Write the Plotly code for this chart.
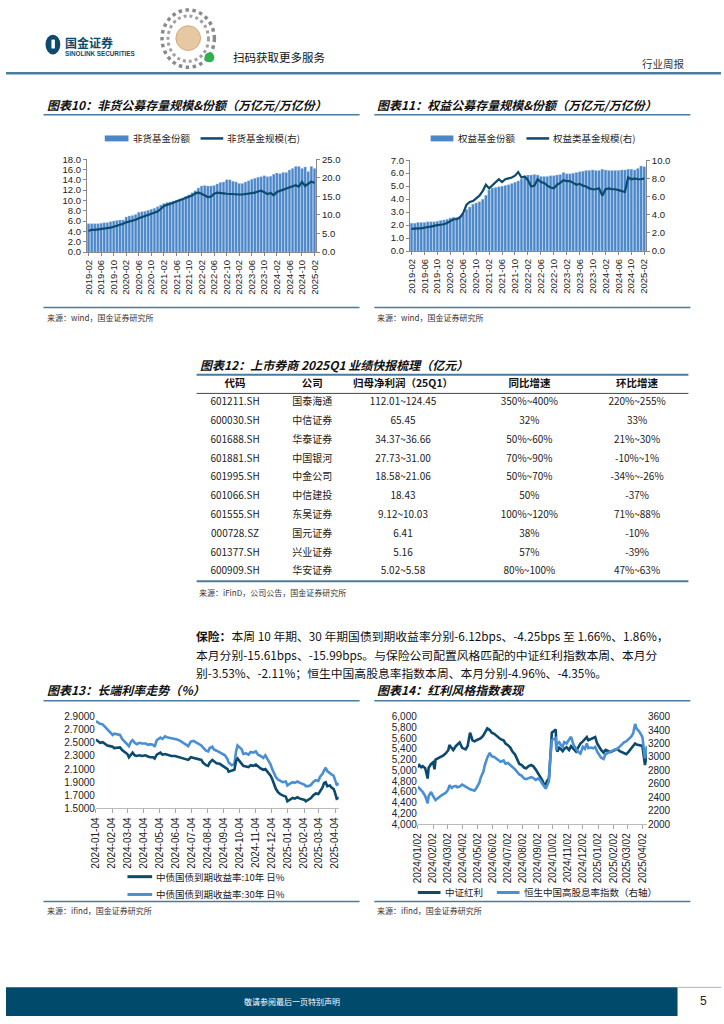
import plotly.graph_objects as go
import pandas as pd

W, H = 724, 1024
def X(px): return px / W
def Y(py): return 1 - py / H

# ---------------- DATA ----------------
MONTHS = [p.strftime("%Y-%m") for p in pd.period_range("2019-02", "2025-02", freq="M")]

SHARE_NONMM = [5.5, 5.5, 5.5, 5.5, 5.6, 5.7, 5.7, 5.9, 6.0, 6.1, 6.2,
               6.2, 6.8, 7.0, 7.1, 7.3, 7.7, 7.8, 7.9, 8.1, 8.3, 8.5, 8.8,
               9.1, 9.4, 9.6, 9.7, 9.9, 10.1, 10.3, 10.5, 10.8, 11.1, 11.5, 11.9,
               12.4, 12.8, 12.9, 12.8, 12.8, 12.9, 13.2, 13.5, 13.6, 14.0, 14.0, 13.7,
               13.6, 13.3, 13.3, 13.6, 13.8, 14.1, 14.3, 14.5, 14.6, 14.8, 14.6, 14.7,
               15.1, 15.3, 15.2, 15.4, 15.4, 15.9, 16.2, 16.6, 16.6, 16.2, 16.5, 15.6,
               16.6, 16.2]
SCALE_NONMM = [5.7, 6.0, 6.0, 6.1, 6.1, 6.2, 6.4, 6.6, 6.8, 7.0, 7.3,
               7.6, 8.0, 8.2, 8.4, 8.7, 9.1, 9.4, 9.6, 9.8, 10.3, 10.6, 10.9,
               11.6, 12.4, 12.7, 12.9, 13.3, 13.6, 13.9, 14.2, 14.4, 14.7, 15.2, 15.8,
               16.0, 15.7, 15.3, 14.8, 14.9, 15.7, 16.0, 16.0, 15.8, 15.7, 15.6, 15.5,
               15.6, 15.5, 15.5, 15.6, 15.7, 15.8, 16.0, 16.3, 16.5, 16.1, 15.6, 15.9,
               15.3, 16.2, 16.5, 16.8, 17.2, 17.5, 17.8, 18.0, 17.6, 18.9, 17.8, 18.3,
               19.0, 18.6]

SHARE_EQ = [2.15, 2.15, 2.2, 2.2, 2.2, 2.25, 2.25, 2.25, 2.3, 2.35, 2.4,
            2.45, 2.55, 2.6, 2.6, 2.7, 2.85, 3.2, 3.4, 3.6, 3.7, 3.8, 4.0,
            4.3, 4.7, 4.85, 4.9, 4.95, 5.0, 5.05, 5.1, 5.2, 5.3, 5.4, 5.55,
            5.75, 5.85, 5.85, 5.9, 5.85, 5.75, 5.75, 5.75, 5.8, 5.8, 5.85, 5.9,
            6.05, 5.95, 5.95, 6.0, 6.05, 6.1, 6.15, 6.2, 6.2, 6.25, 6.2, 6.2,
            6.3, 6.25, 6.2, 6.2, 6.2, 6.2, 6.25, 6.25, 6.3, 6.3, 6.25, 6.35,
            6.55, 6.5]
SCALE_EQ = [2.45, 2.5, 2.5, 2.5, 2.6, 2.65, 2.7, 2.8, 2.85, 2.9, 2.95,
            3.1, 3.3, 3.5, 3.5, 3.7, 4.2, 5.1, 5.4, 5.5, 5.8, 6.1, 6.6,
            7.3, 6.9, 7.2, 7.6, 7.9, 7.6, 7.9, 8.0, 8.1, 8.3, 8.7, 8.1,
            8.2, 7.8, 7.1, 7.2, 7.9, 7.6, 7.5, 7.2, 7.0, 6.9, 7.3, 7.5,
            7.8, 7.7, 7.7, 7.5, 7.3, 7.4, 7.2, 7.1, 6.9, 6.8, 6.8, 6.9,
            6.1, 6.8, 6.9, 6.8, 6.8, 6.7, 6.6, 6.5, 8.1, 7.9, 8.0, 7.9,
            7.9, 8.0]

DATES13 = ["2024-01-04", "2024-01-08", "2024-01-12", "2024-01-17", "2024-01-22", "2024-01-26", "2024-01-31",
           "2024-02-05", "2024-02-08", "2024-02-19", "2024-02-23", "2024-02-28",
           "2024-03-04", "2024-03-07", "2024-03-11", "2024-03-14", "2024-03-18", "2024-03-22", "2024-03-27",
           "2024-04-01", "2024-04-08", "2024-04-12", "2024-04-17", "2024-04-22", "2024-04-25", "2024-04-29",
           "2024-05-06", "2024-05-10", "2024-05-15", "2024-05-20", "2024-05-27",
           "2024-06-03", "2024-06-07", "2024-06-13", "2024-06-19", "2024-06-24", "2024-06-28",
           "2024-07-03", "2024-07-08", "2024-07-12", "2024-07-18", "2024-07-23", "2024-07-26",
           "2024-08-01", "2024-08-05", "2024-08-08", "2024-08-13", "2024-08-16", "2024-08-21", "2024-08-27",
           "2024-09-02", "2024-09-06", "2024-09-11", "2024-09-13", "2024-09-19", "2024-09-24", "2024-09-27", "2024-09-30",
           "2024-10-08", "2024-10-11", "2024-10-16", "2024-10-21", "2024-10-25", "2024-10-30",
           "2024-11-04", "2024-11-08", "2024-11-13", "2024-11-18", "2024-11-22", "2024-11-27",
           "2024-12-02", "2024-12-05", "2024-12-09", "2024-12-12", "2024-12-16", "2024-12-20", "2024-12-25", "2024-12-31",
           "2025-01-03", "2025-01-08", "2025-01-13", "2025-01-17", "2025-01-22", "2025-01-27",
           "2025-02-05", "2025-02-07", "2025-02-12", "2025-02-17", "2025-02-21", "2025-02-26",
           "2025-03-03", "2025-03-06", "2025-03-11", "2025-03-14", "2025-03-17", "2025-03-20", "2025-03-25", "2025-03-28",
           "2025-04-01", "2025-04-03", "2025-04-07", "2025-04-10", "2025-04-11"]
Y10 = [2.55, 2.52, 2.50, 2.51, 2.48, 2.46, 2.45,
       2.44, 2.42, 2.43, 2.39, 2.36,
       2.33, 2.28, 2.32, 2.35, 2.31, 2.30, 2.31,
       2.30, 2.31, 2.29, 2.28, 2.28, 2.26, 2.32,
       2.35, 2.32, 2.33, 2.32, 2.30,
       2.30, 2.29, 2.28, 2.27, 2.25, 2.24,
       2.28, 2.27, 2.26, 2.25, 2.24, 2.20,
       2.16, 2.15, 2.20, 2.24, 2.22, 2.19, 2.18,
       2.15, 2.13, 2.10, 2.06, 2.07, 2.09, 2.22, 2.26,
       2.18, 2.15, 2.14, 2.13, 2.16, 2.15,
       2.17, 2.14, 2.11, 2.09, 2.10, 2.05,
       2.00, 1.95, 1.85, 1.80, 1.75, 1.72, 1.70, 1.68,
       1.61, 1.64, 1.66, 1.65, 1.67, 1.65,
       1.63, 1.61, 1.63, 1.66, 1.70, 1.73,
       1.72, 1.76, 1.82, 1.89, 1.90, 1.84, 1.85, 1.82,
       1.80, 1.76, 1.65, 1.66, 1.66]
Y30 = [2.83, 2.81, 2.79, 2.78, 2.74, 2.70, 2.66,
       2.62, 2.64, 2.62, 2.56, 2.52,
       2.48, 2.45, 2.52, 2.54, 2.50, 2.48, 2.50,
       2.49, 2.49, 2.47, 2.48, 2.47, 2.44, 2.54,
       2.58, 2.56, 2.60, 2.58, 2.57,
       2.56, 2.55, 2.53, 2.50, 2.47, 2.45,
       2.52, 2.53, 2.51, 2.48, 2.46, 2.43,
       2.38, 2.37, 2.42, 2.44, 2.40, 2.38, 2.35,
       2.33, 2.31, 2.25, 2.20, 2.16, 2.18, 2.36, 2.46,
       2.40, 2.33, 2.34, 2.32, 2.36, 2.35,
       2.37, 2.32, 2.30, 2.27, 2.31, 2.24,
       2.17, 2.10, 2.02, 1.98, 1.94, 1.92, 1.90, 1.91,
       1.85, 1.88, 1.90, 1.89, 1.91, 1.89,
       1.86, 1.84, 1.84, 1.86, 1.90, 1.93,
       1.92, 1.98, 2.03, 2.08, 2.12, 2.07, 2.03, 2.02,
       2.00, 1.95, 1.86, 1.87, 1.89]
TICKS13 = ["2024-01-04", "2024-02-04", "2024-03-04", "2024-04-04", "2024-05-04", "2024-06-04",
           "2024-07-04", "2024-08-04", "2024-09-04", "2024-10-04", "2024-11-04", "2024-12-04",
           "2025-01-04", "2025-02-04", "2025-03-04", "2025-04-04"]

DATES14 = ["2024-01-02", "2024-01-05", "2024-01-09", "2024-01-12", "2024-01-17", "2024-01-22", "2024-01-24", "2024-01-29",
           "2024-02-02", "2024-02-05", "2024-02-07", "2024-02-19", "2024-02-23", "2024-02-28",
           "2024-03-04", "2024-03-06", "2024-03-11", "2024-03-14", "2024-03-19", "2024-03-22", "2024-03-27",
           "2024-04-01", "2024-04-08", "2024-04-12", "2024-04-17", "2024-04-22", "2024-04-26", "2024-04-30",
           "2024-05-06", "2024-05-09", "2024-05-14", "2024-05-17", "2024-05-22", "2024-05-27", "2024-05-31",
           "2024-06-05", "2024-06-12", "2024-06-18", "2024-06-24", "2024-06-28",
           "2024-07-03", "2024-07-08", "2024-07-12", "2024-07-17", "2024-07-22", "2024-07-26", "2024-07-31",
           "2024-08-05", "2024-08-09", "2024-08-14", "2024-08-19", "2024-08-23", "2024-08-28",
           "2024-09-02", "2024-09-06", "2024-09-11", "2024-09-13", "2024-09-18", "2024-09-20", "2024-09-24", "2024-09-26", "2024-09-30",
           "2024-10-08", "2024-10-09", "2024-10-11", "2024-10-15", "2024-10-18", "2024-10-22", "2024-10-25", "2024-10-30",
           "2024-11-04", "2024-11-08", "2024-11-13", "2024-11-18", "2024-11-22", "2024-11-27",
           "2024-12-02", "2024-12-06", "2024-12-10", "2024-12-13", "2024-12-18", "2024-12-23", "2024-12-27", "2024-12-31",
           "2025-01-03", "2025-01-08", "2025-01-13", "2025-01-17", "2025-01-22", "2025-01-27",
           "2025-02-05", "2025-02-10", "2025-02-14", "2025-02-19", "2025-02-24", "2025-02-28",
           "2025-03-05", "2025-03-10", "2025-03-14", "2025-03-18", "2025-03-21", "2025-03-26", "2025-03-31",
           "2025-04-02", "2025-04-07", "2025-04-09", "2025-04-11"]
CSI_DIV = [5060, 5100, 5060, 5080, 5040, 4850, 5050, 5120,
           5150, 5020, 5200, 5250, 5280, 5320,
           5380, 5470, 5420, 5380, 5450, 5480, 5520,
           5420, 5390, 5450, 5700, 5560, 5540, 5560,
           5580, 5600, 5650, 5700, 5780, 5750, 5700,
           5680, 5620, 5580, 5560, 5500,
           5470, 5420, 5350, 5300, 5200, 5120, 5100,
           5050, 5040, 5080, 5100, 5080, 5020,
           4950, 4900, 4810, 4760, 4740, 4800, 4850, 5100, 5700,
           5760, 5450, 5350, 5420, 5400, 5360, 5400, 5430,
           5380, 5450, 5400, 5350, 5420, 5500,
           5540, 5580, 5620, 5560, 5580, 5600, 5620, 5500,
           5450, 5380, 5330, 5380, 5360, 5340,
           5380, 5400, 5360, 5340, 5330, 5300,
           5350, 5400, 5460, 5500, 5480, 5470, 5460,
           5440, 5100, 5200, 5300]
HSCEI_DIV = [2560, 2540, 2500, 2480, 2420, 2310, 2420, 2480,
             2420, 2380, 2360, 2430, 2450, 2470,
             2520, 2580, 2540, 2560, 2570, 2550, 2560,
             2590, 2560, 2540, 2520, 2510, 2500, 2540,
             2620, 2700, 2780, 2880, 2990, 3060, 3010,
             3000, 2960, 2930, 2950, 2900,
             2910, 2870, 2850, 2820, 2780, 2740, 2720,
             2680, 2670, 2690, 2700, 2690, 2660,
             2680, 2660, 2600, 2580, 2530, 2570, 2640, 2900, 3250,
             3280, 3100, 3200, 3220, 3180, 3150, 3220, 3200,
             3260, 3300, 3180, 3130, 3080, 3050,
             3150, 3120, 3200, 3130, 3140, 3130, 3150, 3080,
             3040, 2990, 2970, 3040, 3060, 3080,
             3110, 3120, 3150, 3190, 3220, 3230,
             3270, 3300, 3350, 3490, 3420, 3380, 3320,
             3290, 2980, 3060, 3160]
TICKS14 = ["2024/01/02", "2024/02/02", "2024/03/02", "2024/04/02", "2024/05/02", "2024/06/02",
           "2024/07/02", "2024/08/02", "2024/09/02", "2024/10/02", "2024/11/02", "2024/12/02",
           "2025/01/02", "2025/02/02", "2025/03/02", "2025/04/02"]

TBL_HEAD = ["代码", "公司", "归母净利润（25Q1）", "同比增速", "环比增速"]
TBL_CODE = ["601211.SH", "600030.SH", "601688.SH", "601881.SH", "601995.SH",
            "601066.SH", "601555.SH", "000728.SZ", "601377.SH", "600909.SH"]
TBL_NAME = ["国泰海通", "中信证券", "华泰证券", "中国银河", "中金公司",
            "中信建投", "东吴证券", "国元证券", "兴业证券", "华安证券"]
TBL_PROFIT = ["112.01~124.45", "65.45", "34.37~36.66", "27.73~31.00", "18.58~21.06",
              "18.43", "9.12~10.03", "6.41", "5.16", "5.02~5.58"]
TBL_YOY = ["350%~400%", "32%", "50%~60%", "70%~90%", "50%~70%",
           "50%", "100%~120%", "38%", "57%", "80%~100%"]
TBL_QOQ = ["220%~255%", "33%", "21%~30%", "-10%~1%", "-34%~-26%",
           "-37%", "71%~88%", "-10%", "-39%", "47%~63%"]

# ---------------- STYLE ----------------
BAR = "#4a86c8"
DARK = "#0c4a6e"
LIGHT = "#4a8ed4"
RULE = "#4a7b9c"
SANS = "Liberation Sans, Arial, sans-serif"
CJK = "Noto Sans CJK SC, sans-serif"
TICKF = dict(family=SANS, size=9.5, color="#222")

fig = go.Figure()

# Chart 10
fig.add_trace(go.Bar(x=MONTHS, y=SHARE_NONMM, xaxis="x", yaxis="y", marker=dict(color=BAR, line=dict(color="#a7c6e8", width=0.4)), showlegend=False))
fig.add_trace(go.Scatter(x=MONTHS, y=SCALE_NONMM, xaxis="x", yaxis="y2", mode="lines", line=dict(color=DARK, width=2.2), showlegend=False))
# Chart 11
fig.add_trace(go.Bar(x=MONTHS, y=SHARE_EQ, xaxis="x2", yaxis="y3", marker=dict(color=BAR, line=dict(color="#a7c6e8", width=0.4)), showlegend=False))
fig.add_trace(go.Scatter(x=MONTHS, y=SCALE_EQ, xaxis="x2", yaxis="y4", mode="lines", line=dict(color=DARK, width=2.2), showlegend=False))
# Chart 13
fig.add_trace(go.Scatter(x=DATES13, y=Y30, xaxis="x3", yaxis="y5", mode="lines", line=dict(color=LIGHT, width=2.6), showlegend=False))
fig.add_trace(go.Scatter(x=DATES13, y=Y10, xaxis="x3", yaxis="y5", mode="lines", line=dict(color=DARK, width=2.6), showlegend=False))
# Chart 14
fig.add_trace(go.Scatter(x=DATES14, y=CSI_DIV, xaxis="x4", yaxis="y6", mode="lines", line=dict(color=DARK, width=2.6), showlegend=False))
fig.add_trace(go.Scatter(x=DATES14, y=HSCEI_DIV, xaxis="x4", yaxis="y7", mode="lines", line=dict(color=LIGHT, width=2.6), showlegend=False))

# Table 12: one text column per axis, rows on a shared category axis
ROWS = ["HDR"] + TBL_CODE
TBL_COLS = [TBL_CODE, TBL_NAME, TBL_PROFIT, TBL_YOY, TBL_QOQ]
COL_EDGES = [193, 271, 349, 455, 605, 673]
for i, col in enumerate(TBL_COLS):
    fig.add_trace(go.Scatter(
        x=[TBL_HEAD[i]] * len(ROWS), y=ROWS, mode="text",
        text=["<b>%s</b>" % TBL_HEAD[i]] + col, textposition="middle center",
        textfont=dict(family=CJK, size=[10.5] + [10] * len(col), color=["#111"] + ["#222"] * len(col)),
        xaxis="x%d" % (5 + i), yaxis="y8", showlegend=False, hoverinfo="skip", cliponaxis=False))

def cat_x(dom, anchor):
    return dict(domain=dom, anchor=anchor, type="category", tickmode="array",
                tickvals=MONTHS[::4], ticktext=MONTHS[::4], tickangle=-90,
                ticks="outside", ticklen=3, tickcolor="#888", showline=True, linecolor="#888",
                linewidth=1, showgrid=False, tickfont=TICKF, fixedrange=True)

def val_y(dom, anchor, rng, dt, fmt, side="left", overlay=None):
    d = dict(domain=dom, anchor=anchor, range=rng, dtick=dt, tick0=0, tickformat=fmt, side=side,
             ticks="outside", ticklen=3, tickcolor="#888", showline=True,
             linecolor="#888", linewidth=1, showgrid=False, zeroline=False, tickfont=TICKF,
             fixedrange=True)
    if overlay:
        d["overlaying"] = overlay
        d.pop("domain")
    return d

layout_axes = dict(
    xaxis=cat_x([X(82), X(314)], "y"),
    yaxis=val_y([Y(249), Y(155)], "x", [0, 18], 2, ".1f"),
    yaxis2=val_y(None, "x", [0, 25], 5, ".1f", side="right", overlay="y"),
    xaxis2=cat_x([X(409), X(648)], "y3"),
    yaxis3=val_y([Y(248), Y(156)], "x2", [0, 7], 1, ".1f"),
    yaxis4=val_y(None, "x2", [0, 10], 2, ".1f", side="right", overlay="y3"),
    xaxis3=dict(domain=[X(91), X(337)], anchor="y5", type="date", range=["2024-01-04", "2025-04-11"],
                tickmode="array", tickvals=TICKS13, ticktext=TICKS13, tickangle=-90,
                ticks="outside", ticklen=4, tickcolor="#aaa", showline=True, linecolor="#bbb",
                showgrid=False, tickfont=dict(family=SANS, size=10, color="#222"), fixedrange=True),
    yaxis5=dict(domain=[Y(812), Y(719)], anchor="x3", range=[1.5, 2.9], dtick=0.2, tick0=1.5, tickformat=".4f",
                showline=False, showgrid=False, zeroline=False, ticks="",
                tickfont=dict(family=SANS, size=10, color="#222"), fixedrange=True),
    xaxis4=dict(domain=[X(417), X(649)], anchor="y6", type="date", range=["2024-01-02", "2025-04-11"],
                tickmode="array", tickvals=[t.replace("/", "-") for t in TICKS14], ticktext=TICKS14,
                tickangle=-90, ticks="outside", ticklen=4, tickcolor="#aaa", showline=True,
                linecolor="#bbb", showgrid=False, tickfont=dict(family=SANS, size=10, color="#222"),
                fixedrange=True),
    yaxis6=dict(domain=[Y(828), Y(719)], anchor="x4", range=[4000, 6000], dtick=200, tick0=4000, tickformat=",d",
                showline=False, showgrid=False, zeroline=False, ticks="",
                tickfont=dict(family=SANS, size=10, color="#222"), fixedrange=True),
    yaxis7=dict(overlaying="y6", anchor="x4", side="right", range=[2000, 3600], dtick=200, tick0=2000, tickformat="d",
                showline=False, showgrid=False, zeroline=False, ticks="",
                tickfont=dict(family=SANS, size=10, color="#222"), fixedrange=True),
    yaxis8=dict(domain=[Y(582), Y(373)], anchor="x5", type="category", categoryorder="array",
                categoryarray=ROWS, range=[len(ROWS) - 0.5, -0.5], visible=False, fixedrange=True),
)
for i in range(5):
    layout_axes["xaxis%d" % (5 + i)] = dict(domain=[X(COL_EDGES[i]), X(COL_EDGES[i + 1])], anchor="y8",
                                            type="category", range=[-0.5, 0.5], visible=False, fixedrange=True)

fig.update_layout(width=W, height=H, autosize=False, margin=dict(l=0, r=0, t=0, b=0),
                  paper_bgcolor="white", plot_bgcolor="white", bargap=0.18, showlegend=False,
                  **layout_axes)

shapes = []
ann = []

def hline(x0, x1, y, color, width):
    shapes.append(dict(type="line", xref="paper", yref="paper", x0=X(x0), x1=X(x1), y0=Y(y), y1=Y(y),
                       line=dict(color=color, width=width)))

def circ(x0, x1, y0, y1, fill, lcolor=None, lwidth=0, dash="solid"):
    shapes.append(dict(type="circle", xref="paper", yref="paper", x0=X(x0), x1=X(x1), y0=Y(y1), y1=Y(y0),
                       fillcolor=fill, line=dict(color=lcolor or fill, width=lwidth, dash=dash)))

def text(x, y, s, size=10, color="#222", family=CJK, xanchor="left", bold=False, italic=False):
    if bold:
        s = "<b>%s</b>" % s
    if italic:
        s = "<i>%s</i>" % s
    ann.append(dict(xref="paper", yref="paper", x=X(x), y=Y(y), text=s, showarrow=False,
                    xanchor=xanchor, yanchor="middle", font=dict(family=family, size=size, color=color)))

# header: logo
circ(40, 55, 29, 49, DARK)
shapes.append(dict(type="rect", xref="paper", yref="paper", x0=X(46), x1=X(49.5), y0=Y(43), y1=Y(34),
                   fillcolor="white", line=dict(width=0)))
text(58, 37, "国金证券", size=12, color=DARK, bold=True)
text(58, 48, "SINOLINK SECURITIES", size=6.3, color=DARK, family=SANS, bold=True)
# header: mini-program code
circ(158, 211, 4, 62, "white", "#8a8a8a", 3.5, "dot")
circ(164, 205, 10, 56, "white", "#a0a0a0", 3, "dot")
circ(172, 197, 20, 45, "#e6c8a2", "#d2ab80", 1)
circ(201, 211, 47, 57, "#2bb24c")
text(228, 52, "扫码获取更多服务", size=11.5, color="#111")
text(690, 58, "行业周报", size=10.5, color="#333", xanchor="right")
hline(0, 724, 68, "#4a7ea0", 2.5)

# chart 10
text(39, 100, "图表10：非货公募存量规模&份额（万亿元/万亿份）", size=12, color="#111", bold=True, italic=True)
hline(38, 358, 110, RULE, 1.5)
shapes.append(dict(type="rect", xref="paper", yref="paper", x0=X(100), x1=X(124), y0=Y(137), y1=Y(131),
                   fillcolor=BAR, line=dict(width=0)))
text(127, 134, "非货基金份额", size=9.5)
hline(197, 220, 134, DARK, 2.5)
text(222, 134, "非货基金规模(右)", size=9.5)
hline(38, 358, 305, RULE, 1.5)
text(39, 315, "来源：wind，国金证券研究所", size=8, color="#333")

# chart 11
text(374, 100, "图表11：权益公募存量规模&份额（万亿元/万亿份）", size=12, color="#111", bold=True, italic=True)
hline(373, 693, 110, RULE, 1.5)
shapes.append(dict(type="rect", xref="paper", yref="paper", x0=X(430), x1=X(453), y0=Y(137), y1=Y(131),
                   fillcolor=BAR, line=dict(width=0)))
text(456, 134, "权益基金份额", size=9.5)
hline(527, 550, 134, DARK, 2.5)
text(552, 134, "权益类基金规模(右)", size=9.5)
hline(373, 693, 305, RULE, 1.5)
text(374, 315, "来源：wind，国金证券研究所", size=8, color="#333")

# table 12
text(194, 363, "图表12：上市券商 2025Q1 业绩快报梳理（亿元）", size=12, color="#111", bold=True, italic=True)
hline(193, 691, 373, RULE, 2)
hline(193, 691, 392, "#444", 1)
hline(193, 691, 582, RULE, 2)
text(193, 593, "来源：iFinD，公司公告，国金证券研究所", size=8, color="#333")

# paragraph
text(190, 637, "<b>保险：</b>本周 10 年期、30 年期国债到期收益率分别-6.12bps、-4.25bps 至 1.66%、1.86%，", size=11.8, color="#111")
text(190, 656, "本月分别-15.61bps、-15.99bps。与保险公司配置风格匹配的中证红利指数本周、本月分", size=11.8, color="#111")
text(190, 674, "别-3.53%、-2.11%；恒生中国高股息率指数本周、本月分别-4.96%、-4.35%。", size=11.8, color="#111")

# chart 13
text(39, 692, "图表13：长端利率走势（%）", size=12, color="#111", bold=True, italic=True)
hline(38, 358, 703, RULE, 1.5)
hline(123, 148, 881, DARK, 3)
text(150, 881, "中债国债到期收益率:10年 日%", size=9.5)
hline(123, 148, 899, LIGHT, 3)
text(150, 899, "中债国债到期收益率:30年 日%", size=9.5)
hline(38, 358, 906, RULE, 1.5)
text(39, 915, "来源：ifind，国金证券研究所", size=8, color="#333")

# chart 14
text(374, 692, "图表14：红利风格指数表现", size=12, color="#111", bold=True, italic=True)
hline(373, 693, 703, RULE, 1.5)
hline(417, 440, 897, DARK, 3)
text(443, 897, "中证红利", size=9.5)
hline(497, 520, 897, LIGHT, 3)
text(522, 897, "恒生中国高股息率指数（右轴）", size=9.5)
hline(373, 693, 906, RULE, 1.5)
text(374, 915, "来源：ifind，国金证券研究所", size=8, color="#333")

# footer
shapes.append(dict(type="rect", xref="paper", yref="paper", x0=0, x1=X(680), y0=Y(1022), y1=Y(993),
                   fillcolor="#024a6c", line=dict(width=0)))
hline(680, 724, 993, "#9fb8c8", 1)
text(290, 1007, "敬请参阅最后一页特别声明", size=8, color="white", xanchor="center")
text(706, 1007, "5", size=12, color="#222", family=SANS, xanchor="center")

fig.update_layout(shapes=shapes, annotations=ann)
fig.write_html("out.html", config={"displayModeBar": False},
               post_script="document.body.style.margin='0';document.body.style.overflow='hidden';")
